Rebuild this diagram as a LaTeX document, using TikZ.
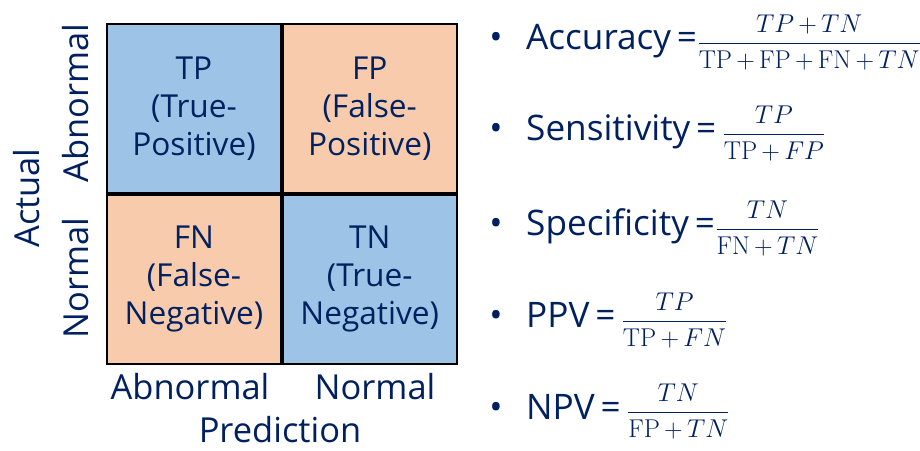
\documentclass[tikz,border=0pt]{standalone}
\usepackage{fix-cm}
\usepackage[no-math]{fontspec}
\setmainfont{Open Sans}
\usepackage{amsmath}
\definecolor{cellblue}{RGB}{157,195,230}
\definecolor{cellorange}{RGB}{248,203,173}
\definecolor{inknavy}{RGB}{0,32,96}
\usetikzlibrary{positioning}

\begin{document}
\begin{tikzpicture}[x=0.025cm,y=-0.025cm,text=inknavy,font=\fontsize{22.5}{27}\selectfont,
  cell/.style={draw=black,line width=1.2pt,minimum width=4.35cm,minimum height=4.225cm,align=center,inner sep=0pt},
  axis/.style={inner sep=0pt,font=\fontsize{24.5}{28}\selectfont},
  metric/.style={anchor=base west,inner sep=0pt,font=\fontsize{25}{28}\selectfont}]
  \useasboundingbox (0,0) rectangle (920,451);
  % confusion matrix
  \node[cell,fill=cellblue] (tp) at (194,108.5) {TP\\(True-\\Positive)};
  \node[cell,fill=cellorange,right=0pt of tp] (fp) {FP\\(False-\\Positive)};
  \node[cell,fill=cellorange,below=0pt of tp] (fn) {FN\\(False-\\Negative)};
  \node[cell,fill=cellblue,right=0pt of fn] (tn) {TN\\(True-\\Negative)};
  % axis labels
  \node[axis,rotate=90] (rowabn) at (76,103) {Abnormal};
  \node[axis,rotate=90] (rownorm) at (76,278) {Normal};
  \node[axis,rotate=90] (actual) at (27,198) {Actual};
  \node[axis] (colabn) at (190,387) {Abnormal};
  \node[axis] (colnorm) at (375,387) {Normal};
  \node[axis] (pred) at (280,430) {Prediction};
  % metrics
  \newcommand{\blt}{\makebox[1.05em][l]{\textbullet}}
  \newcommand{\fr}[2]{{\fontsize{18.3}{22}\selectfont\medmuskip=3mu$\genfrac{}{}{0.85pt}{0}{\rule[-1.5pt]{0pt}{1pt}#1}{\rule{0pt}{15pt}#2}$}}
  \node[metric] (acc) at (489,50) {\blt Accuracy\,=\fr{TP+TN}{\mathrm{TP}+\mathrm{FP}+\mathrm{FN}+TN}};
  \node[metric] (sens) at (489,141) {\blt Sensitivity\,=\,\fr{TP}{\mathrm{TP}+FP}};
  \node[metric] (spec) at (489,236) {\blt Specificity\,=\fr{TN}{\mathrm{FN}+TN}};
  \node[metric] (ppv) at (489,328) {\blt PPV\,=\,\fr{TP}{\mathrm{TP}+FN}};
  \node[metric] (npv) at (489,419) {\blt NPV\,=\,\fr{TN}{\mathrm{FP}+TN}};
\end{tikzpicture}
\end{document}
